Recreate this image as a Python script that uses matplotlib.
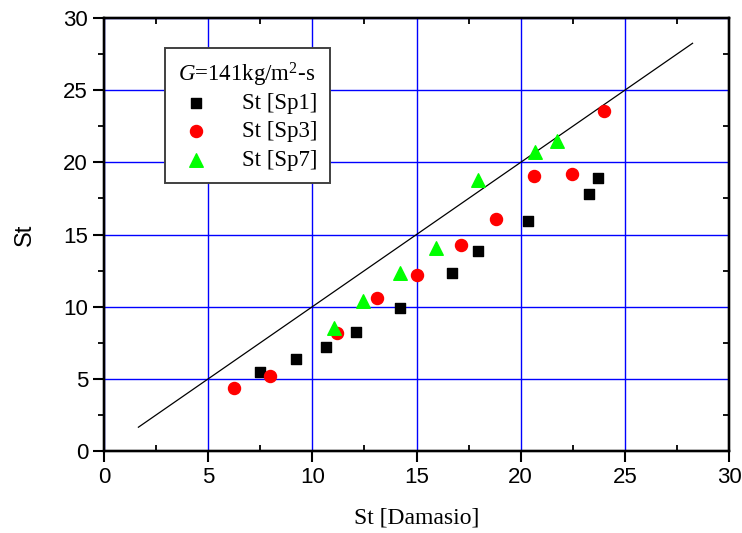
import numpy as np
import matplotlib.pyplot as plt
from matplotlib.ticker import MultipleLocator

plt.rcParams['mathtext.fontset'] = 'custom'
plt.rcParams['mathtext.rm'] = 'Liberation Serif'
plt.rcParams['mathtext.it'] = 'Liberation Serif:italic'

# data
sp1_x = [7.5, 9.2, 10.65, 12.1, 14.2, 16.7, 17.95, 20.35, 23.3, 23.7]
sp1_y = [5.45, 6.35, 7.2, 8.25, 9.9, 12.35, 13.85, 15.95, 17.8, 18.95]

sp3_x = [6.25, 7.95, 11.2, 13.1, 15.0, 17.15, 18.8, 20.65, 22.45, 24.0]
sp3_y = [4.35, 5.2, 8.2, 10.6, 12.2, 14.25, 16.05, 19.05, 19.2, 23.55]

sp7_x = [11.05, 12.45, 14.2, 15.95, 17.95, 20.7, 21.75]
sp7_y = [8.55, 10.4, 12.35, 14.1, 18.8, 20.7, 21.45]

diag = [1.65, 28.25]

fig = plt.figure(figsize=(7.42, 5.33), dpi=100)
ax = fig.add_axes([0.1402, 0.1538, 0.8423, 0.8124])

ax.plot(diag, diag, color='black', lw=0.9, zorder=3)
ax.scatter(sp1_x, sp1_y, marker='s', s=52, color='black', label='St [Sp1]', zorder=4)
ax.scatter(sp3_x, sp3_y, marker='o', s=75, color='#ff0000', label='St [Sp3]', zorder=4)
ax.scatter(sp7_x, sp7_y, marker='^', s=95, color='#00ff00', label='St [Sp7]', zorder=4)

ax.set_xlim(0, 30)
ax.set_ylim(0, 30)
ax.xaxis.set_major_locator(MultipleLocator(5))
ax.yaxis.set_major_locator(MultipleLocator(5))
ax.xaxis.set_minor_locator(MultipleLocator(2.5))
ax.yaxis.set_minor_locator(MultipleLocator(2.5))
ax.grid(True, which='major', color='#0000ff', lw=1.0, zorder=0)
ax.set_axisbelow(True)

for s in ax.spines.values():
    s.set_linewidth(1.6)

ax.tick_params(which='major', direction='out', length=8, width=1.5,
               labelsize=16, top=False, right=False)
ax.tick_params(axis='x', which='minor', direction='in', length=4, width=1.3, top=False)
ax.tick_params(axis='y', which='minor', direction='out', length=4, width=1.3, right=False)
for lab in ax.get_xticklabels() + ax.get_yticklabels():
    lab.set_fontfamily('Liberation Sans')

# inward ticks on top/right
axt = ax.twiny()
axt.set_xlim(0, 30)
axt.xaxis.set_major_locator(MultipleLocator(5))
axt.xaxis.set_minor_locator(MultipleLocator(2.5))
axt.tick_params(axis='x', which='both', direction='in', labeltop=False, width=1.3)
axt.tick_params(axis='x', which='major', length=0)
axt.tick_params(axis='x', which='minor', length=4)
axr = ax.twinx()
axr.set_ylim(0, 30)
axr.yaxis.set_major_locator(MultipleLocator(5))
axr.yaxis.set_minor_locator(MultipleLocator(2.5))
axr.tick_params(axis='y', which='both', direction='in', labelright=False, width=1.3)
axr.tick_params(axis='y', which='major', length=0)
axr.tick_params(axis='y', which='minor', length=4)
for a in (axt, axr):
    for s in a.spines.values():
        s.set_linewidth(1.6)

ax.set_xlabel('St [Damasio]', fontfamily='Liberation Serif', fontsize=17, labelpad=14)
ax.set_ylabel('St', fontfamily='Liberation Sans', fontsize=17, labelpad=20)

leg = ax.legend(loc='upper left', bbox_to_anchor=(165 / 742, 1 - 48 / 533),
                bbox_transform=fig.transFigure,
                title=r'$G$=141kg/m$^2$-s', alignment='left',
                prop={'family': 'Liberation Serif', 'size': 16.5},
                title_fontproperties={'family': 'Liberation Serif', 'size': 16.5},
                fancybox=False, framealpha=1, edgecolor='#404040',
                handletextpad=1.2, labelspacing=0.32, borderpad=0.55,
                handlelength=1.6, borderaxespad=0, scatterpoints=1)
leg.get_frame().set_linewidth(1.4)
leg._legend_box.sep = 3
leg.set_zorder(10)

fig.savefig('out.png', dpi=100)
